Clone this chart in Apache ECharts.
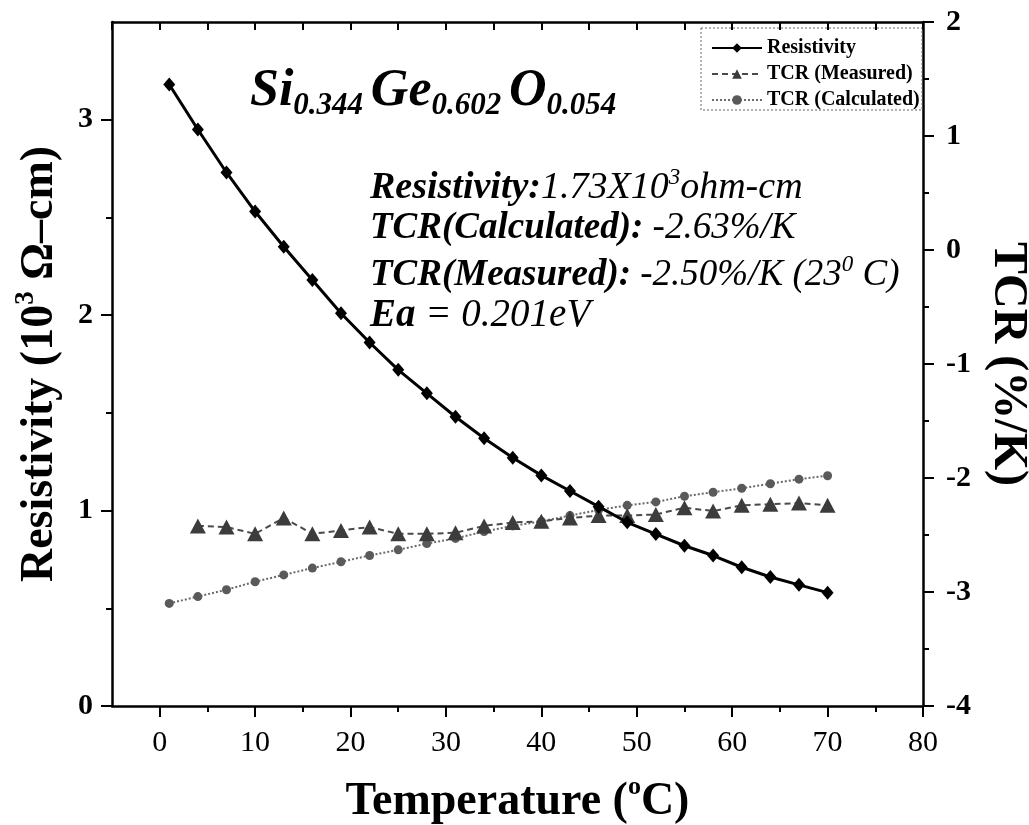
<!DOCTYPE html>
<html>
<head>
<meta charset="utf-8">
<script src="https://cdn.jsdelivr.net/npm/echarts@6/dist/echarts.min.js"></script>
<style>
  html, body { margin: 0; padding: 0; background: #fff; }
  #chart { width: 1029px; height: 825px; }
</style>
</head>
<body>
<div id="chart"></div>
<script>
// Temperature sweep (°C)
const temperature = [1, 4, 7, 10, 13, 16, 19, 22, 25, 28, 31, 34, 37, 40, 43, 46, 49, 52, 55, 58, 61, 64, 67, 70];
// Resistivity (10^3 ohm-cm)
const resistivity = [3.18, 2.95, 2.73, 2.53, 2.35, 2.18, 2.01, 1.86, 1.72, 1.60, 1.48, 1.37, 1.27, 1.18,
  1.10, 1.02, 0.94, 0.88, 0.82, 0.77, 0.71, 0.66, 0.62, 0.58];
// Measured TCR (%/K), starts at 4 °C
const tcrMeasuredTemp = [4, 7, 10, 13, 16, 19, 22, 25, 28, 31, 34, 37, 40, 43, 46, 49, 52, 55, 58, 61, 64, 67, 70];
const tcrMeasured = [-2.42, -2.43, -2.49, -2.35, -2.49, -2.46, -2.43, -2.49, -2.49, -2.48, -2.42, -2.39,
  -2.38, -2.35, -2.33, -2.33, -2.32, -2.26, -2.29, -2.24, -2.23, -2.22, -2.24];
// Calculated TCR (%/K)
const tcrCalculated = [-3.10, -3.04, -2.98, -2.91, -2.85, -2.79, -2.735, -2.68, -2.63, -2.575, -2.53, -2.47,
  -2.42, -2.38, -2.33, -2.28, -2.24, -2.21, -2.16, -2.125, -2.09, -2.05, -2.01, -1.98];

// Axis tick positions
const xMajorTicks = [0, 10, 20, 30, 40, 50, 60, 70, 80];
const xMinorTicks = [5, 15, 25, 35, 45, 55, 65, 75];
const leftMajorTicks = [0, 1, 2, 3];
const leftMinorTicks = [0.5, 1.5, 2.5];

const SERIF = '"Liberation Serif", "Times New Roman", serif';
const zip = (xs, ys) => xs.map((x, i) => [x, ys[i]]);

const chart = echarts.init(document.getElementById('chart'), null, { renderer: 'canvas' });

const axisLine = { show: true, onZero: false, lineStyle: { color: '#000', width: 2.5 } };
const noLine = { show: false, onZero: false };

const option = {
  backgroundColor: '#fff',
  animation: false,
  grid: { left: 112, right: 106, top: 22, bottom: 119, containLabel: false, outerBoundsMode: 'none' },
  legend: {
    orient: 'vertical',
    left: 706,
    top: 33,
    itemGap: 6,
    itemWidth: 50,
    itemHeight: 12,
    textStyle: { fontFamily: SERIF, fontWeight: 'bold', fontSize: 20, color: '#000' },
    data: ['Resistivity', 'TCR (Measured)', 'TCR (Calculated)']
  },
  xAxis: [
    {
      type: 'value', position: 'bottom', min: -5, max: 80,
      axisLine,
      splitLine: { show: false },
      axisTick: { show: true, customValues: xMajorTicks, length: 11, lineStyle: { color: '#000', width: 2 } },
      axisLabel: { customValues: xMajorTicks, margin: 22, fontFamily: SERIF, fontSize: 30, color: '#000' },
      name: 'Temperature ({sup|o}C)',
      nameLocation: 'middle',
      nameGap: 68,
      nameTextStyle: {
        fontFamily: SERIF, fontWeight: 'bold', fontSize: 46, color: '#000',
        rich: { sup: { fontFamily: SERIF, fontWeight: 'bold', fontSize: 26, color: '#000', padding: [0, 0, 30, 0] } }
      }
    },
    {
      type: 'value', position: 'bottom', min: -5, max: 80,
      axisLine: noLine,
      splitLine: { show: false },
      axisTick: { show: true, customValues: xMinorTicks, length: 6, lineStyle: { color: '#000', width: 2 } },
      axisLabel: { show: false }
    },
    {
      type: 'value', position: 'top', min: -5, max: 80, interval: 5,
      axisLine,
      splitLine: { show: false },
      axisTick: { show: true, inside: true, length: 8, lineStyle: { color: '#000', width: 2 } },
      axisLabel: { show: false }
    }
  ],
  yAxis: [
    {
      type: 'value', position: 'left', min: 0, max: 3.5,
      axisLine,
      splitLine: { show: false },
      axisTick: { show: true, customValues: leftMajorTicks, length: 11, lineStyle: { color: '#000', width: 2 } },
      axisLabel: { customValues: leftMajorTicks, margin: 19, fontFamily: SERIF, fontWeight: 'bold', fontSize: 30, color: '#000' },
      name: 'Resistivity (10{sup|3} Ω–cm)',
      nameLocation: 'middle',
      nameGap: 44,
      nameTextStyle: {
        fontFamily: SERIF, fontWeight: 'bold', fontSize: 46, color: '#000',
        rich: { sup: { fontFamily: SERIF, fontWeight: 'bold', fontSize: 27, color: '#000', padding: [0, 0, 28, 0] } }
      }
    },
    {
      type: 'value', position: 'right', min: -4, max: 2, interval: 1,
      axisLine,
      splitLine: { show: false },
      axisTick: { show: true, length: 11, lineStyle: { color: '#000', width: 2 } },
      minorTick: { show: true, splitNumber: 2, length: 6, lineStyle: { color: '#000', width: 2 } },
      axisLabel: { margin: 23, fontFamily: SERIF, fontWeight: 'bold', fontSize: 30, color: '#000' },
      name: 'TCR (%/K)',
      nameLocation: 'middle',
      nameRotate: -90,
      nameGap: 60,
      nameTextStyle: { fontFamily: SERIF, fontWeight: 'bold', fontSize: 48, color: '#000' }
    },
    {
      type: 'value', position: 'left', min: 0, max: 3.5,
      axisLine: noLine,
      splitLine: { show: false },
      axisTick: { show: true, customValues: leftMinorTicks, length: 6, lineStyle: { color: '#000', width: 2 } },
      axisLabel: { show: false }
    }
  ],
  series: [
    {
      name: 'TCR (Calculated)',
      type: 'line',
      yAxisIndex: 1,
      data: zip(temperature, tcrCalculated),
      symbol: 'circle',
      symbolSize: 9,
      itemStyle: { color: '#5a5a5a' },
      lineStyle: { color: '#6a6a6a', width: 2, type: [2, 2] },
      z: 2
    },
    {
      name: 'TCR (Measured)',
      type: 'line',
      yAxisIndex: 1,
      data: zip(tcrMeasuredTemp, tcrMeasured),
      symbol: 'triangle',
      symbolSize: [16, 15],
      itemStyle: { color: '#3c3c3c' },
      lineStyle: { color: '#4a4a4a', width: 2, type: [6, 4] },
      z: 3
    },
    {
      name: 'Resistivity',
      type: 'line',
      yAxisIndex: 0,
      data: zip(temperature, resistivity),
      symbol: 'diamond',
      symbolSize: [12, 14],
      itemStyle: { color: '#000' },
      lineStyle: { color: '#000', width: 3 },
      z: 4
    }
  ],
  graphic: [
    {
      type: 'rect',
      shape: { x: 701, y: 28, width: 221, height: 82 },
      style: { fill: 'rgba(0,0,0,0)', stroke: '#666', lineWidth: 1, lineDash: [2, 2] },
      z: 1
    },
    {
      type: 'text', left: 250, top: 66,
      style: {
        text: '{m|Si}{s|0.344 }{m|Ge}{s|0.602 }{m|O}{s|0.054}',
        rich: {
          m: { fontFamily: SERIF, fontWeight: 'bold', fontStyle: 'italic', fontSize: 52, fill: '#000' },
          s: { fontFamily: SERIF, fontWeight: 'bold', fontStyle: 'italic', fontSize: 31, fill: '#000', padding: [27, 0, 0, 0] }
        }
      }
    },
    {
      type: 'text', left: 370, top: 166,
      style: {
        text: '{b|Resistivity:}{i|1.73X10}{sup|3}{i|ohm-cm}',
        rich: {
          b: { fontFamily: SERIF, fontWeight: 'bold', fontStyle: 'italic', fontSize: 38, fill: '#000' },
          i: { fontFamily: SERIF, fontStyle: 'italic', fontSize: 38, fill: '#000' },
          sup: { fontFamily: SERIF, fontStyle: 'italic', fontSize: 23, fill: '#000', padding: [0, 0, 22, 0] }
        }
      }
    },
    {
      type: 'text', left: 370, top: 210,
      style: {
        text: '{b|TCR(Calculated):}{i| -2.63%/K}',
        rich: {
          b: { fontFamily: SERIF, fontWeight: 'bold', fontStyle: 'italic', fontSize: 37, fill: '#000' },
          i: { fontFamily: SERIF, fontStyle: 'italic', fontSize: 37, fill: '#000' }
        }
      }
    },
    {
      type: 'text', left: 370, top: 253,
      style: {
        text: '{b|TCR(Measured):}{i| -2.50%/K (23}{sup|0}{i| C)}',
        rich: {
          b: { fontFamily: SERIF, fontWeight: 'bold', fontStyle: 'italic', fontSize: 37, fill: '#000' },
          i: { fontFamily: SERIF, fontStyle: 'italic', fontSize: 37, fill: '#000' },
          sup: { fontFamily: SERIF, fontStyle: 'italic', fontSize: 23, fill: '#000', padding: [0, 0, 22, 0] }
        }
      }
    },
    {
      type: 'text', left: 370, top: 296,
      style: {
        text: '{b|Ea}{i| = 0.201eV}',
        rich: {
          b: { fontFamily: SERIF, fontWeight: 'bold', fontStyle: 'italic', fontSize: 39, fill: '#000' },
          i: { fontFamily: SERIF, fontStyle: 'italic', fontSize: 39, fill: '#000' }
        }
      }
    }
  ]
};

chart.setOption(option);
</script>
</body>
</html>
